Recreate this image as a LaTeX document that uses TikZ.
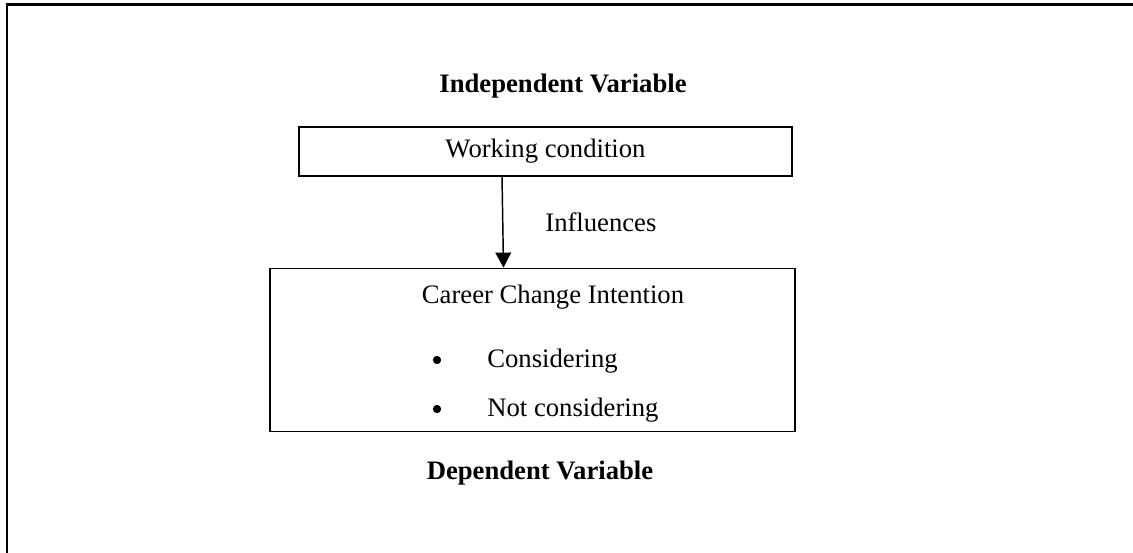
\documentclass[tikz,border=0pt]{standalone}
\usepackage{fontspec}
\setmainfont{Liberation Serif}
\usetikzlibrary{arrows.meta}

\begin{document}
\begin{tikzpicture}[x=0.48pt,y=-0.48pt,
    every node/.style={font=\fontsize{12.8}{15}\selectfont},
    box/.style={draw,line width=0.9pt,inner sep=0pt},
    varlabel/.style={font=\fontsize{12.8}{15}\selectfont\bfseries,anchor=base},
    item/.style={anchor=base west},
    dot/.style={circle,fill,inner sep=0pt,minimum size=4pt}]
  \useasboundingbox (0,0) rectangle (1133,552);
  % outer frame, cut off at right and bottom
  \draw[line width=1.2pt] (7,560) -- (7,4.5) -- (1140,4.5);

  \node[varlabel] (iv) at (563,92) {Independent Variable};
  \node[box,minimum width=236.6pt,minimum height=23.5pt] (wc) at (545.5,151.5) {Working condition};

  \node[box,minimum width=252pt,minimum height=78.2pt] (cci) at (532.5,350) {};
  \node[anchor=base] (title) at (553,303) {Career Change Intention};
  \node[dot] (d1) at (437,360) {};
  \node[item] (b1) at (480,367) {Considering};
  \node[dot] (d2) at (437,409) {};
  \node[item] (b2) at (480,416) {Not considering};

  \node[varlabel] (dv) at (540,479) {Dependent Variable};

  \coordinate (ax) at (502,0);
  \coordinate (bx) at (503.5,0);
  \draw[-{Triangle[width=7.5pt,length=7.2pt]},line width=0.7pt] (wc.south -| ax) -- (cci.north -| bx);
  \node[anchor=base west] (inf) at (538,231) {Influences};
\end{tikzpicture}
\end{document}
